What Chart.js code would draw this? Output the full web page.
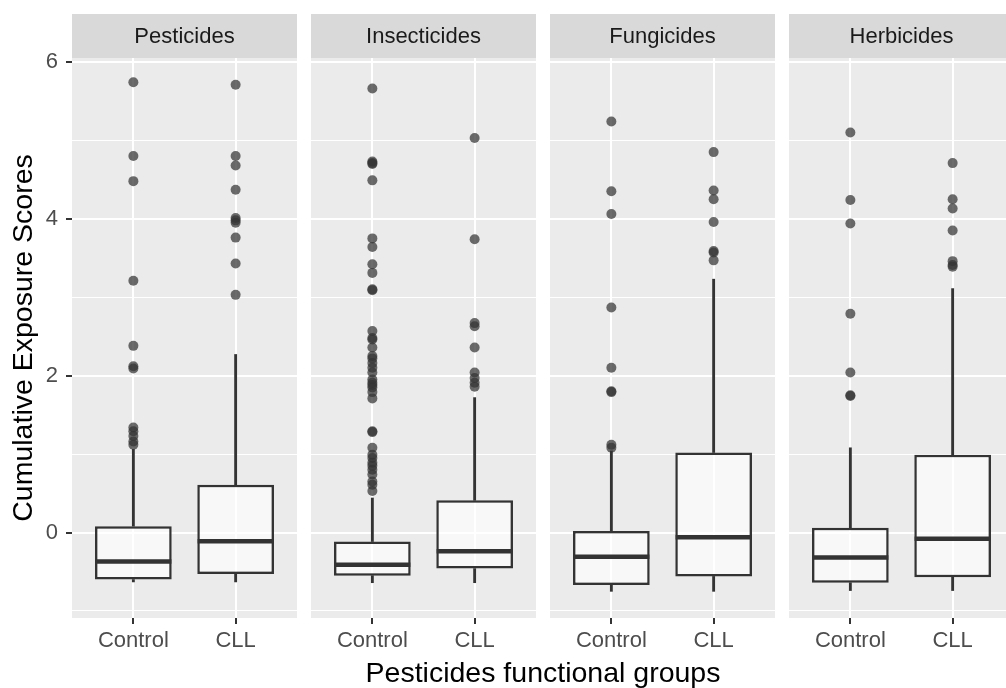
<!DOCTYPE html>
<html>
<head>
<meta charset="utf-8">
<script src="https://cdn.jsdelivr.net/npm/chart.js@4.4.0/dist/chart.umd.min.js"></script>
<style>
  html, body { margin: 0; padding: 0; background: #fff; overflow: hidden; }
  #wrap { position: relative; width: 1006px; height: 688px; overflow: hidden; }
  canvas { position: absolute; top: 0; }
  #xtitle {
    position: absolute; left: 72px; width: 942px; top: 658px;
    text-align: center; font: 28.5px "Liberation Sans", Arial, sans-serif;
    line-height: 28px; color: #000;
  }
</style>
</head>
<body>
<div id="wrap">
  <canvas id="p0" width="297" height="688" style="left:0"></canvas>
  <canvas id="p1" width="225" height="688" style="left:311px"></canvas>
  <canvas id="p2" width="225" height="688" style="left:550px"></canvas>
  <canvas id="p3" width="225" height="688" style="left:789px"></canvas>
  <div id="xtitle">Pesticides functional groups</div>
</div>
<script>
// --- data: one entry per panel, each [Control, CLL] ---
const panels = ["Pesticides", "Insecticides", "Fungicides", "Herbicides"];
const groups = ["Control", "CLL"];

const whiskerLow  = [[-0.63, -0.63], [-0.64, -0.64], [-0.75, -0.75], [-0.74, -0.74]];
const lowerQ      = [[-0.60, -0.53], [-0.55, -0.46], [-0.67, -0.56], [-0.64, -0.57]];
const medians     = [[-0.37, -0.11], [-0.41, -0.24], [-0.31, -0.06], [-0.32, -0.08]];
const upperQ      = [[0.08, 0.61], [-0.115, 0.41], [0.02, 1.02], [0.06, 0.99]];
const whiskerHigh = [[1.06, 2.27], [0.44, 1.72], [1.04, 3.23], [1.08, 3.11]];

const outliersControl = [
  [5.74, 4.80, 4.48, 3.21, 2.38, 2.12, 2.09, 1.34, 1.29, 1.23, 1.16, 1.12],
  [5.66, 4.73, 4.71, 4.70, 4.49, 3.75, 3.64, 3.42, 3.31, 3.10, 3.09, 2.57, 2.48, 2.46,
   2.36, 2.25, 2.22, 2.16, 2.10, 2.04, 1.95, 1.91, 1.88, 1.85, 1.79, 1.71, 1.29, 1.28,
   1.08, 0.99, 0.95, 0.89, 0.85, 0.80, 0.74, 0.65, 0.61, 0.53],
  [5.24, 4.35, 4.06, 2.87, 2.10, 1.80, 1.79, 1.12, 1.08],
  [5.10, 4.24, 3.94, 2.79, 2.04, 1.75, 1.74],
];
const outliersCLL = [
  [5.71, 4.80, 4.68, 4.37, 4.01, 3.98, 3.95, 3.76, 3.43, 3.03],
  [5.03, 3.74, 2.67, 2.63, 2.36, 2.04, 1.97, 1.91, 1.86],
  [4.85, 4.36, 4.25, 3.96, 3.59, 3.57, 3.47],
  [4.71, 4.25, 4.13, 3.85, 3.46, 3.41, 3.39],
];

const yMin = -1.09, yMax = 6.05;
const FONT = '"Liberation Sans", Arial, sans-serif';

// --- panel background + facet strip ---
const facetPanel = {
  id: "facetPanel",
  beforeDraw(chart, args, opts) {
    const { ctx, chartArea: a } = chart;
    ctx.save();
    ctx.fillStyle = "#EBEBEB";
    ctx.fillRect(a.left, a.top, a.right - a.left, a.bottom - a.top);
    ctx.fillStyle = "#D9D9D9";
    ctx.fillRect(a.left, 14, a.right - a.left, a.top - 14);
    ctx.fillStyle = "#1A1A1A";
    ctx.font = `22px ${FONT}`;
    ctx.textAlign = "center";
    ctx.textBaseline = "middle";
    ctx.fillText(opts.label, (a.left + a.right) / 2, (14 + a.top) / 2 + 1);
    ctx.restore();
  },
};

const isMajor = c => c.tick && c.tick.value % 2 === 0;

panels.forEach((name, p) => {
  const first = p === 0;
  const xs = groups.map((g, i) => i + 1);
  const bars = (lo, hi) => xs.map((x, i) => ({ x, y: [lo[p][i], hi[p][i]] }));
  const points = [
    ...outliersControl[p].map(v => ({ x: 1, y: v })),
    ...outliersCLL[p].map(v => ({ x: 2, y: v })),
  ];

  new Chart(document.getElementById("p" + p), {
    type: "bar",
    data: {
      datasets: [
        {
          type: "scatter", data: points, order: 0,
          pointRadius: 5, backgroundColor: "rgba(51,51,51,0.72)", borderWidth: 0,
        },
        {
          type: "scatter", data: xs.map((x, i) => ({ x, y: medians[p][i] })), order: 1,
          pointStyle: "line", pointRadius: 38, borderColor: "#333", borderWidth: 4.5,
        },
        {
          data: bars(lowerQ, upperQ), order: 2, grouped: false,
          backgroundColor: "rgba(255,255,255,0.65)", borderColor: "#333",
          borderWidth: 2.5, borderSkipped: false, barPercentage: 0.75, categoryPercentage: 1,
        },
        {
          data: bars(whiskerLow, lowerQ), order: 3, grouped: false,
          backgroundColor: "#333", barThickness: 2.2,
        },
        {
          data: bars(upperQ, whiskerHigh), order: 3, grouped: false,
          backgroundColor: "#333", barThickness: 2.2,
        },
      ],
    },
    options: {
      responsive: false,
      animation: false,
      events: [],
      layout: { autoPadding: false, padding: { top: 58, left: 0, right: 0, bottom: 0 } },
      plugins: {
        legend: { display: false },
        tooltip: { enabled: false },
        facetPanel: { label: name },
      },
      scales: {
        x: {
          type: "linear", min: 0.4, max: 2.6, offset: false,
          afterBuildTicks: s => { s.ticks = xs.map(v => ({ value: v })); },
          afterFit: s => { s.height = 70; s.paddingLeft = 0; s.paddingRight = 0; },
          border: { display: false },
          grid: { color: "#fff", lineWidth: 2, tickColor: "#333", tickLength: 6, tickWidth: 2, offset: false },
          ticks: {
            color: "#4D4D4D", font: { size: 22, family: FONT }, padding: 4,
            autoSkip: false, maxRotation: 0, callback: v => groups[v - 1],
          },
        },
        y: {
          min: yMin, max: yMax,
          afterFit: s => { s.width = first ? 72 : 0; s.paddingTop = 0; s.paddingBottom = 0; },
          border: { display: false },
          grid: {
            color: "#fff",
            lineWidth: c => (isMajor(c) ? 2 : 1),
            drawTicks: first,
            tickColor: c => (isMajor(c) ? "#333" : "rgba(0,0,0,0)"),
            tickLength: 6, tickWidth: 2,
          },
          ticks: {
            display: first, stepSize: 1, includeBounds: false,
            color: "#4D4D4D", font: { size: 22, family: FONT }, padding: 8,
            callback: v => (v % 2 === 0 ? v : ""),
          },
          title: {
            display: first, text: "Cumulative Exposure Scores", color: "#000",
            font: { size: 28.5, family: FONT }, padding: { top: 7, bottom: 0 },
          },
        },
      },
    },
    plugins: [facetPanel],
  });
});
</script>
</body>
</html>
